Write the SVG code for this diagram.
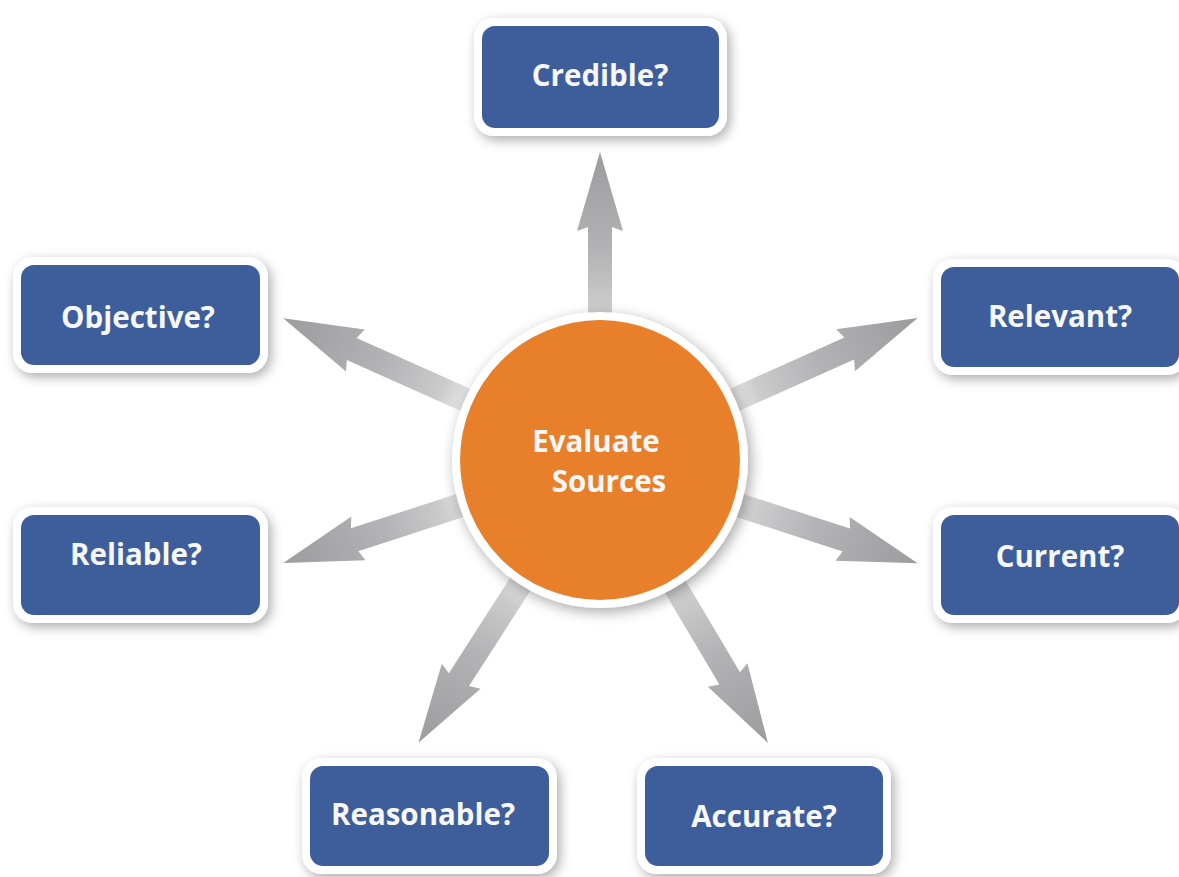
<svg xmlns="http://www.w3.org/2000/svg" width="1179" height="877" viewBox="0 0 1179 877">
  <defs>
    <style>
      .box-outer { fill: #ffffff; filter: url(#shadow); }
      .box-inner { fill: #3d5e9a; }
      .label { font-family: "Open Sans", "Liberation Sans", sans-serif; font-weight: 700; font-size: 29.5px; fill: #f7f7f7; text-anchor: middle; }
      .arrow { fill: url(#arrowGrad); }
    </style>
    <filter id="shadow" x="-20%" y="-20%" width="140%" height="150%">
      <feDropShadow dx="3" dy="4" stdDeviation="6" flood-color="#000000" flood-opacity="0.33"/>
    </filter>
    <filter id="halo" x="-20%" y="-20%" width="140%" height="140%">
      <feDropShadow dx="3" dy="4" stdDeviation="7" flood-color="#000000" flood-opacity="0.35"/>
    </filter>
    <!-- shading runs from the hub (light) out to the tip (darker) -->
    <linearGradient id="arrowGrad" x1="0" y1="0" x2="1" y2="0">
      <stop offset="0.40" stop-color="#ececec"/>
      <stop offset="0.50" stop-color="#cbcbcc"/>
      <stop offset="0.68" stop-color="#b3b3b5"/>
      <stop offset="1" stop-color="#9c9c9e"/>
    </linearGradient>
  </defs>

  <rect width="1179" height="877" fill="#ffffff"/>

  <!-- connectors: each arrow points along +x from the hub centre, then is rotated -->
  <g id="connectors" transform="translate(600 460)">
    <path class="arrow" transform="rotate(-90)" d="M0,-12 L233,-12 L229,-23 L308,0 L229,23 L233,12 L0,12 Z"/>
    <path class="arrow" transform="rotate(-155.9)" d="M0,-12 L272,-12 L268,-23 L347,0 L268,23 L272,12 L0,12 Z"/>
    <path class="arrow" transform="rotate(-24.1)" d="M0,-12 L273,-12 L269,-23 L348,0 L269,23 L273,12 L0,12 Z"/>
    <path class="arrow" transform="rotate(162)" d="M0,-12 L258,-12 L254,-23 L333,0 L254,23 L258,12 L0,12 Z"/>
    <path class="arrow" transform="rotate(18)" d="M0,-12 L259,-12 L255,-23 L334,0 L255,23 L259,12 L0,12 Z"/>
    <path class="arrow" transform="rotate(122.7)" d="M0,-12 L261,-12 L257,-23 L336,0 L257,23 L261,12 L0,12 Z"/>
    <path class="arrow" transform="rotate(59.3)" d="M0,-12 L254,-12 L250,-23 L329,0 L250,23 L254,12 L0,12 Z"/>
  </g>

  <!-- hub -->
  <g id="hub">
    <circle cx="600" cy="460" r="148" fill="#ffffff" filter="url(#halo)"/>
    <circle cx="600" cy="460" r="140" fill="#e87f2b"/>
    <text class="label" x="596" y="452">Evaluate</text>
    <text class="label" x="609" y="492">Sources</text>
  </g>

  <g id="credible">
    <rect class="box-outer" x="474" y="18" width="253" height="118" rx="20"/>
    <rect class="box-inner" x="482" y="26" width="237" height="102" rx="13"/>
    <text class="label" x="600" y="86">Credible?</text>
  </g>

  <g id="objective">
    <rect class="box-outer" x="13" y="257" width="255" height="116" rx="20"/>
    <rect class="box-inner" x="21" y="265" width="239" height="100" rx="13"/>
    <text class="label" x="138" y="328">Objective?</text>
  </g>

  <g id="relevant">
    <rect class="box-outer" x="933" y="259" width="254" height="116" rx="20"/>
    <rect class="box-inner" x="941" y="267" width="238" height="100" rx="13"/>
    <text class="label" x="1060" y="327">Relevant?</text>
  </g>

  <g id="reliable">
    <rect class="box-outer" x="13" y="507" width="255" height="116" rx="20"/>
    <rect class="box-inner" x="21" y="515" width="239" height="100" rx="13"/>
    <text class="label" x="136" y="565">Reliable?</text>
  </g>

  <g id="current">
    <rect class="box-outer" x="933" y="507" width="254" height="116" rx="20"/>
    <rect class="box-inner" x="941" y="515" width="238" height="100" rx="13"/>
    <text class="label" x="1060" y="567">Current?</text>
  </g>

  <g id="reasonable">
    <rect class="box-outer" x="302" y="758" width="255" height="116" rx="20"/>
    <rect class="box-inner" x="310" y="766" width="239" height="100" rx="13"/>
    <text class="label" x="423" y="825">Reasonable?</text>
  </g>

  <g id="accurate">
    <rect class="box-outer" x="637" y="758" width="254" height="116" rx="20"/>
    <rect class="box-inner" x="645" y="766" width="238" height="100" rx="13"/>
    <text class="label" x="764" y="827">Accurate?</text>
  </g>
</svg>
